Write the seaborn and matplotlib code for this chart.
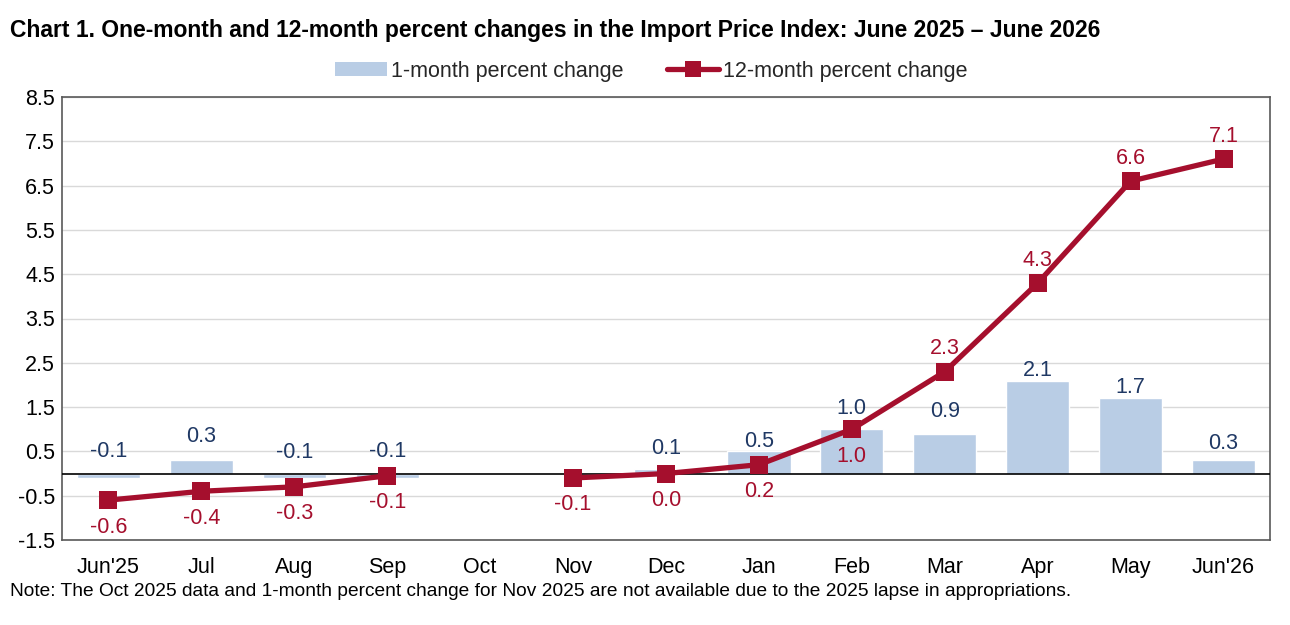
import numpy as np
import pandas as pd
import matplotlib
matplotlib.use("Agg")
import matplotlib.pyplot as plt
from matplotlib.patches import Patch
from matplotlib.lines import Line2D
import seaborn as sns

months = ["Jun'25", "Jul", "Aug", "Sep", "Oct", "Nov", "Dec", "Jan", "Feb", "Mar", "Apr", "May", "Jun'26"]
one_month = [-0.1, 0.3, -0.1, -0.1, np.nan, np.nan, 0.1, 0.5, 1.0, 0.9, 2.1, 1.7, 0.3]
twelve_month = [-0.6, -0.4, -0.3, -0.05, np.nan, -0.1, 0.0, 0.2, 1.0, 2.3, 4.3, 6.6, 7.1]
twelve_labels = ["-0.6", "-0.4", "-0.3", "-0.1", "", "-0.1", "0.0", "0.2", "1.0", "2.3", "4.3", "6.6", "7.1"]
y_ticks = [-1.5, -0.5, 0.5, 1.5, 2.5, 3.5, 4.5, 5.5, 6.5, 7.5, 8.5]

# style (label offsets in pixels)
bar_label_off = [22, 24, 21, 22, 0, 0, 21, 10, 21, 22, 10.5, 10.5, 16.5]
line_label_below = [True] * 9 + [False] * 4

BAR_C = "#b9cde5"
LINE_C = "#a50f2d"
BLUE_TXT = "#1f3864"
FS = 15.5

sns.set_theme(style="white")
plt.rcParams["font.family"] = ["Liberation Sans", "DejaVu Sans"]

fig = plt.figure(figsize=(12.9, 6.25), dpi=100)
ax = fig.add_axes([62 / 1290, 1 - 540 / 625, (1270 - 62) / 1290, (540 - 97) / 625])

df = pd.DataFrame({"month": months, "one": one_month, "twelve": twelve_month,
                   "pos": np.arange(len(months))})

ax.yaxis.grid(True, color="#d9d9d9", linewidth=1)
ax.set_axisbelow(True)

sns.barplot(data=df, x="month", y="one", order=months, color=BAR_C, width=0.68,
            saturation=1, ax=ax, zorder=2)

ax.axhline(0, color="black", linewidth=1.2, zorder=3)

# line segments broken at missing values
seg_id = df["twelve"].isna().cumsum()
for _, seg in df[df["twelve"].notna()].groupby(seg_id[df["twelve"].notna()]):
    sns.lineplot(data=seg, x="pos", y="twelve", color=LINE_C, linewidth=3.8,
                 marker="s", markersize=13, markeredgewidth=0, ax=ax, zorder=4,
                 legend=False)

px = 72 / 100
for i, v in enumerate(one_month):
    if np.isnan(v):
        continue
    ax.annotate(f"{v:.1f}", (i, max(v, 0)), xytext=(0, bar_label_off[i] * px),
                textcoords="offset points", ha="center", va="center",
                fontsize=FS, color=BLUE_TXT, zorder=5)

for i, v in enumerate(twelve_month):
    if np.isnan(v):
        continue
    off = -27 if line_label_below[i] else 23
    ax.annotate(twelve_labels[i], (i, v), xytext=(0, off * px),
                textcoords="offset points", ha="center", va="center",
                fontsize=FS, color=LINE_C, zorder=5)

ax.set_xlim(-0.5, len(months) - 0.5)
ax.set_ylim(-1.5, 8.5)
ax.set_yticks(y_ticks)
ax.set_yticklabels([f"{t:.1f}" for t in y_ticks])
ax.set_xlabel("")
ax.set_ylabel("")
ax.tick_params(axis="x", length=0, pad=12, labelsize=FS, colors="black")
ax.tick_params(axis="y", length=0, pad=5, labelsize=FS, colors="black")
for s in ax.spines.values():
    s.set_visible(True)
    s.set_color("#595959")
    s.set_linewidth(1.2)

handles = [Patch(facecolor=BAR_C, edgecolor="none"),
           Line2D([0], [0], color=LINE_C, linewidth=3.8, marker="s", markersize=11,
                  markeredgewidth=0)]
fig.legend(handles, ["1-month percent change", "12-month percent change"],
           loc="center", bbox_to_anchor=(0.505, 1 - 71 / 625), ncol=2, frameon=False,
           fontsize=FS, handlelength=2.4, handleheight=0.6, handletextpad=0.2,
           columnspacing=2.0)

fig.text(10 / 1290, 1 - 30 / 625,
         "Chart 1. One-month and 12-month percent changes in the Import Price Index: June 2025 \u2013 June 2026",
         ha="left", va="center", fontsize=16.5, fontweight="bold", color="black")
fig.text(10 / 1290, 1 - 592 / 625,
         "Note: The Oct 2025 data and 1-month percent change for Nov 2025 are not available due to the 2025 lapse in appropriations.",
         ha="left", va="center", fontsize=13.8, color="black")

fig.savefig("out.png", dpi=100)
